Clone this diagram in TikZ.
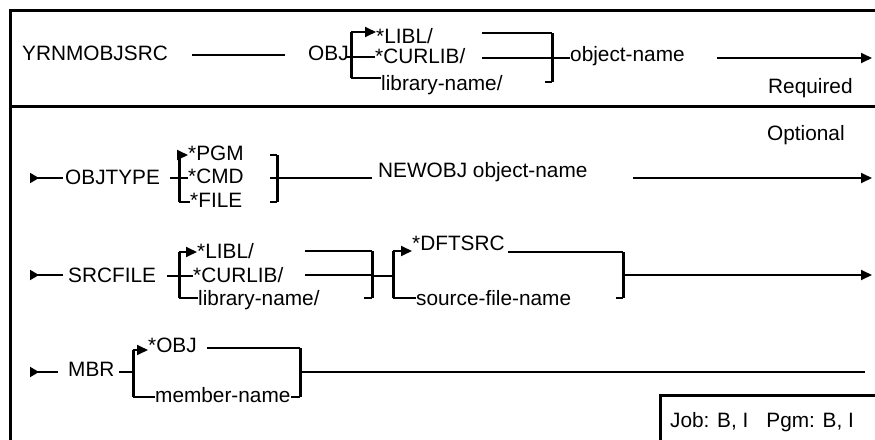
\documentclass[tikz,border=0pt]{standalone}
\usepackage{fontspec}
\setmainfont{Liberation Sans}
\usetikzlibrary{arrows.meta}
\tikzset{
  lbl/.style={anchor=base west, inner sep=0pt, font=\fontsize{20.8}{24}\selectfont},
  ln/.style={line width=1.8pt},
  brk/.style={line width=3pt},
  frameline/.style={line width=3pt},
  arr/.style={ln, -{Triangle[length=11pt,width=10pt]}},
  startarr/.style={ln, {Triangle[reversed,length=9pt,width=10pt]}-},
}
\begin{document}
\begin{tikzpicture}[x=1pt,y=-1pt]
\useasboundingbox (0,0) rectangle (875,439);
% frame
\coordinate (ftl) at (10,10); \coordinate (ftr) at (877,10);
\coordinate (fbl) at (10,441); \coordinate (fdl) at (10,106); \coordinate (fdr) at (877,106);
\draw[frameline] (ftr) -- (ftl) -- (fbl);
\draw[frameline] (fdl) -- (fdr);

% ===== Row 1 (required) =====
\node[lbl] (title) at (22,60) {YRNMOBJSRC};
\node[lbl] (obj) at (308,60) {OBJ};
\node[lbl] (libla) at (376,43) {*LIBL/};
\node[lbl] (curliba) at (375,63) {*CURLIB/};
\node[lbl] (libnamea) at (381,90) {library-name/};
\node[lbl] (objnamea) at (570,61) {object-name};
\node[lbl] (req) at (768,93) {Required};
\coordinate (ta) at (192,55); \coordinate (tb) at (285,55);
\draw[ln] (ta) -- (tb);
\coordinate (Lat) at (351,32); \coordinate (Lab) at (351,78); \coordinate (Lam) at (346,57);
\draw[brk] (Lat) -- (Lab);
\draw[arr] (Lat) -- (Lat -| libla.west);
\draw[ln] (Lam) -- (Lam -| curliba.west);
\draw[ln] (Lab) -- (Lab -| libnamea.west);
\coordinate (Rat) at (552,33); \coordinate (Rab) at (552,82); \coordinate (Ram) at (552,58);
\coordinate (Ra1) at (482,33); \coordinate (Ra2) at (482,58); \coordinate (Ra3) at (545,82);
\draw[ln] (Ra1) -- (Rat);
\draw[ln] (Ra2) -- (Ram);
\draw[ln] (Ra3) -- (Rab);
\draw[brk] (Rat) -- (Rab);
\draw[ln] (Ram) -- (Ram -| objnamea.west);
\coordinate (Aa1) at (717,58); \coordinate (Aa2) at (872,58);
\draw[arr] (Aa1) -- (Aa2);

% ===== Row 2 OBJTYPE =====
\node[lbl] (opt) at (767,140) {Optional};
\node[lbl] (objtype) at (65,184) {OBJTYPE};
\node[lbl] (pgm) at (188,160) {*PGM};
\node[lbl] (cmd) at (188,183) {*CMD};
\node[lbl] (file) at (190,207) {*FILE};
\node[lbl] (newobj) at (378,177) {NEWOBJ object-name};
\coordinate (sb) at (30,178); \coordinate (sbe) at (63,178);
\draw[startarr] (sb) -- (sbe);
\coordinate (Lbt) at (179,155); \coordinate (Lbb) at (179,202); \coordinate (Lbm) at (170,178);
\draw[brk] (Lbt) -- (Lbb);
\draw[arr] (Lbt) -- (Lbt -| pgm.west);
\draw[ln] (Lbm) -- (Lbm -| cmd.west);
\draw[ln] (Lbb) -- (Lbb -| file.west);
\coordinate (Rbt) at (277,155); \coordinate (Rbb) at (277,202);
\coordinate (Rb1) at (270,155); \coordinate (Rb2) at (270,202);
\coordinate (Rbm) at (270,178); \coordinate (Rbe) at (372,178);
\draw[brk] (Rbt) -- (Rbb);
\draw[ln] (Rb1) -- (Rbt);
\draw[ln] (Rb2) -- (Rbb);
\draw[ln] (Rbm) -- (Rbe);
\coordinate (Ab1) at (633,178); \coordinate (Ab2) at (872,178);
\draw[arr] (Ab1) -- (Ab2);

% ===== Row 3 SRCFILE =====
\node[lbl] (srcfile) at (68,282) {SRCFILE};
\node[lbl] (liblc) at (197,258) {*LIBL/};
\node[lbl] (curlibc) at (193,282) {*CURLIB/};
\node[lbl] (libnamec) at (198,305) {library-name/};
\node[lbl] (dftsrc) at (412,250) {*DFTSRC};
\node[lbl] (srcname) at (416,305) {source-file-name};
\coordinate (sc) at (30,275); \coordinate (sce) at (63,275);
\draw[startarr] (sc) -- (sce);
\coordinate (Lct) at (179,252); \coordinate (Lcb) at (179,298); \coordinate (Lcm) at (167,276);
\draw[brk] (Lct) -- (Lcb);
\draw[arr] (Lct) -- (Lct -| liblc.west);
\draw[ln] (Lcm) -- (Lcm -| curlibc.west);
\draw[ln] (Lcb) -- (Lcb -| libnamec.west);
\coordinate (Rct) at (372,251); \coordinate (Rcb) at (372,298); \coordinate (Rcm) at (372,276);
\coordinate (Rc1) at (305,251); \coordinate (Rc2) at (305,275); \coordinate (Rc2e) at (372,275);
\coordinate (Rc3) at (364,298);
\draw[ln] (Rc1) -- (Rct);
\draw[ln] (Rc2) -- (Rc2e);
\draw[ln] (Rc3) -- (Rcb);
\draw[brk] (Rct) -- (Rcb);
\coordinate (Ldt) at (393,251); \coordinate (Ldb) at (393,298); \coordinate (Ldm) at (393,276);
\draw[ln] (Rcm) -- (Ldm);
\draw[brk] (Ldt) -- (Ldb);
\draw[arr] (Ldt) -- (Ldt -| dftsrc.west);
\draw[ln] (Ldb) -- (Ldb -| srcname.west);
\coordinate (Rdt) at (623,252); \coordinate (Rdb) at (623,298); \coordinate (Rdm) at (623,275);
\coordinate (Rd1) at (508,252); \coordinate (Rd3) at (616,298);
\draw[ln] (Rd1) -- (Rdt);
\draw[ln] (Rd3) -- (Rdb);
\draw[brk] (Rdt) -- (Rdb);
\coordinate (Ac2) at (872,275);
\draw[arr] (Rdm) -- (Ac2);

% ===== Row 4 MBR =====
\node[lbl] (mbr) at (68,376) {MBR};
\node[lbl] (objk) at (148,352) {*OBJ};
\node[lbl] (member) at (155,402) {member-name};
\coordinate (sd) at (30,372); \coordinate (sde) at (58,372);
\draw[startarr] (sd) -- (sde);
\coordinate (Let) at (133,350); \coordinate (Leb) at (133,397); \coordinate (Lem) at (119,372);
\draw[brk] (Let) -- (Leb);
\draw[ln] (Lem) -- (Lem -| Let);
\draw[arr] (Let) -- (Let -| objk.west);
\draw[ln] (Leb) -- (Leb -| member.west);
\coordinate (Ret) at (300,348); \coordinate (Reb) at (300,397); \coordinate (Rem) at (300,372);
\coordinate (Re1) at (207,348); \coordinate (Re3) at (291,397); \coordinate (Ree) at (865,372);
\draw[ln] (Re1) -- (Ret);
\draw[ln] (Re3) -- (Reb);
\draw[brk] (Ret) -- (Reb);
\draw[ln] (Rem) -- (Ree);

% job box
\coordinate (jb1) at (660,441); \coordinate (jb2) at (660,395); \coordinate (jb3) at (877,395);
\draw[frameline] (jb1) -- (jb2) -- (jb3);
\node[lbl] (job) at (670,427) {Job: B, I\hspace{18pt}Pgm: B, I};
\end{tikzpicture}
\end{document}
